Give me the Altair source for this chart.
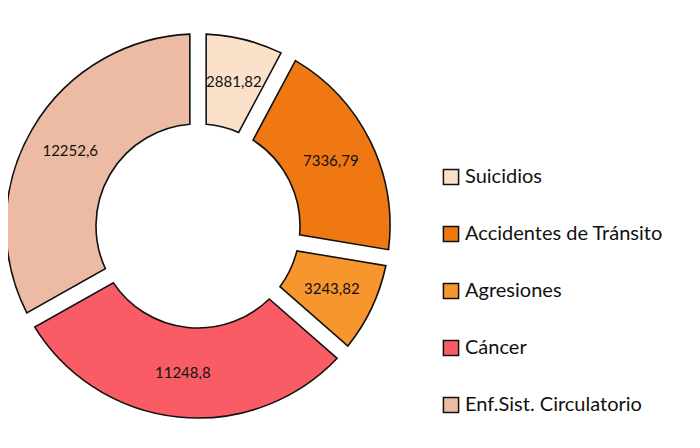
import altair as alt
import pandas as pd

categories = ["Suicidios", "Accidentes de Tránsito", "Agresiones", "Cáncer", "Enf.Sist. Circulatorio"]
values = [2881.82, 7336.79, 3243.82, 11248.8, 12252.6]
labels = ["2881,82", "7336,79", "3243,82", "11248,8", "12252,6"]
colors = ["#FBE1CA", "#F07812", "#F7962C", "#F95C64", "#EDBBA3"]

df = pd.DataFrame({"cat": categories, "value": values, "label": labels, "idx": list(range(len(values)))})

base = alt.Chart(df).encode(
    theta=alt.Theta("value:Q", stack=True),
    order=alt.Order("idx:Q"),
    x=alt.value(190),
    y=alt.value(218),
)

arcs = base.mark_arc(
    innerRadius=102, outerRadius=192, padAngle=0.075,
    stroke="#111111", strokeWidth=1.6
).encode(
    color=alt.Color(
        "cat:N",
        scale=alt.Scale(domain=categories, range=colors),
        sort=categories,
        legend=alt.Legend(
            title=None, orient="none", legendX=433, legendY=159,
            symbolType="square", symbolSize=230, symbolStrokeColor="#111111",
            symbolStrokeWidth=1.5, labelFont="Lato", labelFontSize=20,
            labelColor="#111111", rowPadding=35, labelOffset=4, labelLimit=300,
        ),
    )
)

text = base.mark_text(radius=148, font="Lato", fontSize=15, color="#111111").encode(
    text="label:N"
)

chart = (arcs + text).properties(
    width=684, height=432, padding=0,
    autosize=alt.AutoSizeParams(type="none"),
).configure_view(stroke=None)

chart.save("out.html", embed_options={"renderer": "svg", "actions": False})
